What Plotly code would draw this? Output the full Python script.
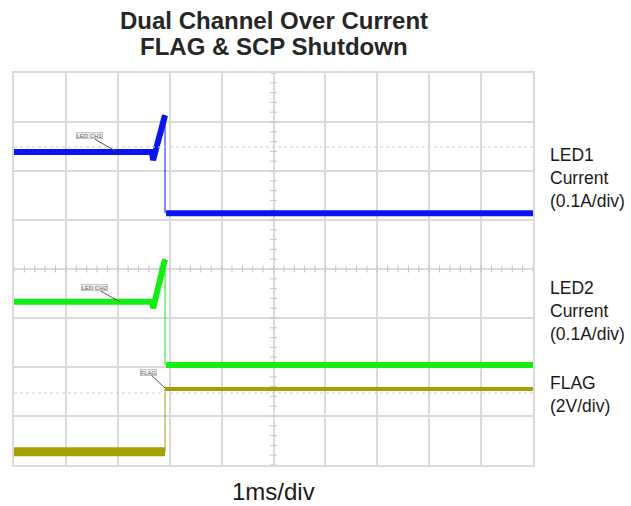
import numpy as np
import plotly.graph_objects as go

# time in ms (1 ms/div), amplitude in screen divisions
led1_t_pre = [0.0, 2.66, 2.68, 2.91]
led1_v_pre = [6.39, 6.39, 6.22, 7.14]
led1_t_step = [2.91, 2.91]
led1_v_step = [7.14, 5.14]
led1_t_post = [2.93, 10.0]
led1_v_post = [5.14, 5.14]

led2_t_pre = [0.0, 2.66, 2.68, 2.91]
led2_v_pre = [3.33, 3.33, 3.20, 4.20]
led2_t_step = [2.91, 2.91]
led2_v_step = [4.20, 2.04]
led2_t_post = [2.93, 10.0]
led2_v_post = [2.04, 2.04]

flag_t_pre = [0.0, 2.91]
flag_v_pre = [0.27, 0.27]
flag_t_step = [2.91, 2.91]
flag_v_step = [0.27, 1.55]
flag_t_post = [2.91, 10.0]
flag_v_post = [1.55, 1.55]

cursor_levels = [6.49, 1.47]

BLUE = "#0a14f0"
GREEN = "#12ee12"
OLIVE = "#a8a000"
GRID = "#dadada"
FONT = "Liberation Sans, Arial, sans-serif"

# plot area in page pixels: x 14..533, y 73..465
PL, PR, PT, PB = 14, 533, 73, 465
W, H = 631, 506


def px2paper(px, py):
    return (px - PL) / (PR - PL), (PB - py) / (PB - PT)


fig = go.Figure()

# center-line ticks (graticule)
tx = np.arange(0, 10.001, 0.2)
ty = np.arange(0, 8.001, 0.2)
fig.add_trace(go.Scatter(x=tx, y=[4] * len(tx), mode="markers",
                         marker=dict(symbol="line-ns", size=5, line=dict(color="#c4c4c4", width=1)),
                         hoverinfo="skip", showlegend=False))
fig.add_trace(go.Scatter(x=[5] * len(ty), y=ty, mode="markers",
                         marker=dict(symbol="line-ew", size=5, line=dict(color="#c4c4c4", width=1)),
                         hoverinfo="skip", showlegend=False))


def add(t, v, color, w):
    fig.add_trace(go.Scatter(x=t, y=v, mode="lines", line=dict(color=color, width=w),
                             showlegend=False, hoverinfo="skip"))


add(led1_t_pre, led1_v_pre, BLUE, 6)
add(led1_t_step, led1_v_step, BLUE, 1)
add(led1_t_post, led1_v_post, BLUE, 6)
add(led2_t_pre, led2_v_pre, GREEN, 6)
add(led2_t_step, led2_v_step, GREEN, 1)
add(led2_t_post, led2_v_post, GREEN, 6)
add(flag_t_pre, flag_v_pre, OLIVE, 9)
add(flag_t_step, flag_v_step, OLIVE, 1)
add(flag_t_post, flag_v_post, OLIVE, 4)

# trigger & level markers
fig.add_trace(go.Scatter(x=[2.91], y=[-0.1], mode="markers", cliponaxis=False,
                         marker=dict(symbol="triangle-up", size=5, color=OLIVE),
                         showlegend=False, hoverinfo="skip"))
fig.add_trace(go.Scatter(x=[10.05], y=[0.67], mode="markers", cliponaxis=False,
                         marker=dict(symbol="square", size=3, color=OLIVE),
                         showlegend=False, hoverinfo="skip"))

shapes = []
for lv in cursor_levels:
    shapes.append(dict(type="line", xref="x", yref="y", x0=0, x1=10, y0=lv, y1=lv,
                       line=dict(color="#cfcfcf", width=1, dash="dot")))

ann = []
# channel labels on traces
for txt, x, y, ax, ay in [("LED CH1", 1.95, 6.41, -26, -15),
                          ("LED CH2", 2.04, 3.33, -25, -14),
                          ("FLAG", 2.91, 1.57, -17, -16)]:
    ann.append(dict(x=x, y=y, xref="x", yref="y", text=txt, showarrow=True,
                    arrowhead=0, arrowwidth=1, arrowcolor="#555", ax=ax, ay=ay,
                    font=dict(size=6, color="#666", family=FONT),
                    bgcolor="#eeeeee", bordercolor="#999", borderwidth=0.5, borderpad=0))
# left channel markers
for txt, y, col in [("C3", 5.14, BLUE), ("C4", 2.04, GREEN), ("C1", 0.35, OLIVE)]:
    ann.append(dict(x=-0.09, y=y, xref="x", yref="y", text=txt, showarrow=False,
                    textangle=-90, font=dict(size=6, color=col, family=FONT)))

# right-side labels
for txt, y in [("LED1<br>Current<br>(0.1A/div)", 5.86),
               ("LED2<br>Current<br>(0.1A/div)", 3.14),
               ("FLAG<br>(2V/div)", 1.43)]:
    ann.append(dict(x=px2paper(548, 0)[0], y=y, xref="paper", yref="y", text=txt, showarrow=False,
                    xanchor="left", yanchor="middle", align="left",
                    font=dict(size=17.5, color="#1a1a1a", family=FONT)))

# titles and time-base label (positions in page pixels)
for txt, px, py, bold in [("Dual Channel Over Current", 273.5, 21, True),
                          ("FLAG &amp; SCP Shutdown", 273.5, 47, True),
                          ("1ms/div", 273, 491, False)]:
    xp, yp = px2paper(px, py)
    ann.append(dict(x=xp, y=yp, xref="paper", yref="paper",
                    text=f"<b>{txt}</b>" if bold else txt,
                    showarrow=False, xanchor="center", yanchor="middle",
                    font=dict(size=24, color="#262626" if bold else "#1a1a1a", family=FONT)))

fig.update_layout(
    width=W, height=H,
    margin=dict(l=PL, r=W - PR, t=PT, b=H - PB),
    paper_bgcolor="white", plot_bgcolor="white",
    shapes=shapes, annotations=ann,
    xaxis=dict(range=[0, 10], dtick=1, showgrid=True, gridcolor=GRID, gridwidth=1.5,
               zeroline=False, showticklabels=False, showline=True, mirror=True,
               linecolor=GRID, linewidth=1.5, ticks=""),
    yaxis=dict(range=[0, 8], dtick=1, showgrid=True, gridcolor=GRID, gridwidth=1.5,
               zeroline=False, showticklabels=False, showline=True, mirror=True,
               linecolor=GRID, linewidth=1.5, ticks=""),
)

fig.write_html("out.html", config={"displayModeBar": False},
               post_script="document.body.style.margin='0';document.body.style.overflow='hidden';")
